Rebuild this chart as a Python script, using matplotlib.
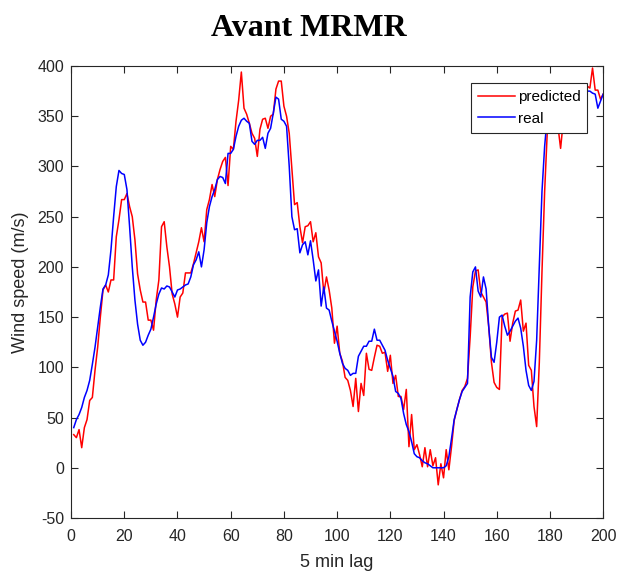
import numpy as np
import matplotlib
matplotlib.use("Agg")
import matplotlib.pyplot as plt

plt.rcParams['font.family'] = ['Liberation Sans', 'DejaVu Sans']
plt.rcParams['axes.unicode_minus'] = False

# 5 min lag index
lag = np.arange(1, 201)

# real wind speed
real = [40, 48, 53, 60, 70, 77, 87, 103, 120, 140, 160, 178, 182, 192, 217, 250, 280, 296, 293, 292,
        277, 240, 200, 167, 143, 127, 122, 125, 132, 138, 150, 163, 173, 179, 178, 181, 180, 175, 170, 177,
        178, 180, 182, 183, 190, 202, 207, 215, 200, 217, 244, 260, 270, 277, 287, 290, 289, 283, 313, 313,
        317, 330, 340, 346, 348, 345, 343, 325, 322, 326, 326, 329, 318, 333, 338, 353, 369, 367, 347, 345,
        340, 300, 250, 237, 238, 214, 222, 225, 212, 226, 207, 186, 197, 161, 180, 159, 157, 146, 136, 126,
        114, 104, 99, 97, 92, 94, 94, 111, 116, 121, 121, 126, 126, 138, 127, 127, 122, 117, 107, 99,
        91, 76, 74, 69, 54, 43, 36, 26, 14, 11, 10, 7, 5, 4, 2, 0, 0, 0, 0, 0,
        2, 11, 29, 48, 58, 68, 76, 80, 84, 170, 195, 200, 176, 170, 190, 178, 140, 110, 105, 125,
        150, 152, 141, 132, 136, 141, 146, 149, 139, 121, 97, 82, 77, 86, 127, 200, 275, 320, 350, 362,
        366, 368, 365, 362, 366, 370, 368, 372, 370, 373, 375, 372, 374, 375, 375, 373, 372, 358, 365, 372]

# predicted wind speed
predicted = [33, 30, 38, 20, 40, 48, 67, 70, 97, 120, 150, 177, 182, 175, 187, 187, 230, 247, 267, 267,
             273, 260, 250, 227, 193, 177, 165, 165, 147, 147, 137, 167, 187, 240, 245, 220, 200, 173, 163, 150,
             170, 174, 194, 194, 194, 203, 214, 225, 239, 225, 257, 267, 282, 270, 287, 297, 305, 309, 281, 320,
             317, 345, 366, 394, 358, 352, 343, 333, 328, 310, 337, 347, 348, 338, 350, 352, 377, 385, 385, 360,
             350, 333, 297, 262, 264, 240, 224, 240, 241, 245, 225, 234, 210, 204, 174, 190, 177, 159, 124, 141,
             114, 106, 90, 87, 77, 61, 89, 56, 84, 72, 114, 98, 97, 110, 122, 121, 114, 115, 96, 112,
             84, 92, 71, 71, 58, 78, 21, 53, 18, 23, 13, 1, 20, 1, 18, 2, 10, -17, 4, -10,
             18, -2, 21, 47, 58, 68, 77, 81, 89, 130, 180, 196, 197, 175, 170, 165, 140, 105, 85, 80,
             78, 150, 153, 154, 126, 144, 156, 157, 167, 136, 144, 102, 97, 61, 41, 105, 195, 275, 335, 350,
             360, 345, 340, 318, 345, 355, 362, 360, 365, 370, 368, 372, 375, 380, 378, 398, 376, 376, 367, 372]

fig = plt.figure(figsize=(6.18, 5.76), dpi=100)
ax = fig.add_axes([0.115, 0.1007, 0.861, 0.7847])

ax.plot(lag, predicted, color='#ff0000', lw=1.1, label='predicted')
ax.plot(lag, real, color='#0000ff', lw=1.1, label='real')

ax.set_xlim(0, 200)
ax.set_ylim(-50, 400)
ax.set_xticks(np.arange(0, 201, 20))
ax.set_yticks(np.arange(-50, 401, 50))
ax.tick_params(direction='in', top=True, right=True, length=5, width=0.8,
               labelsize=11.5, colors='#262626')
ax.tick_params(axis='x', pad=8)
ax.tick_params(axis='y', pad=5)
for s in ax.spines.values():
    s.set_color('#262626')
    s.set_linewidth(0.8)

ax.set_xlabel('5 min lag', fontsize=13, color='#262626', labelpad=7)
ax.set_ylabel('Wind speed (m/s)', fontsize=13, color='#262626')
ax.yaxis.set_label_coords(-0.08, 0.522)

fig.suptitle('Avant MRMR', fontsize=23, fontweight='bold', family='Liberation Serif',
             x=0.5, y=0.976)

leg = ax.legend(loc='upper right', bbox_to_anchor=(0.97, 0.962), borderaxespad=0,
                fontsize=11, fancybox=False, framealpha=1, edgecolor='#262626',
                handlelength=2.4, handletextpad=0.2, borderpad=0.45, labelspacing=0.5)
leg.get_frame().set_linewidth(0.8)

fig.savefig('out.png', dpi=100)
